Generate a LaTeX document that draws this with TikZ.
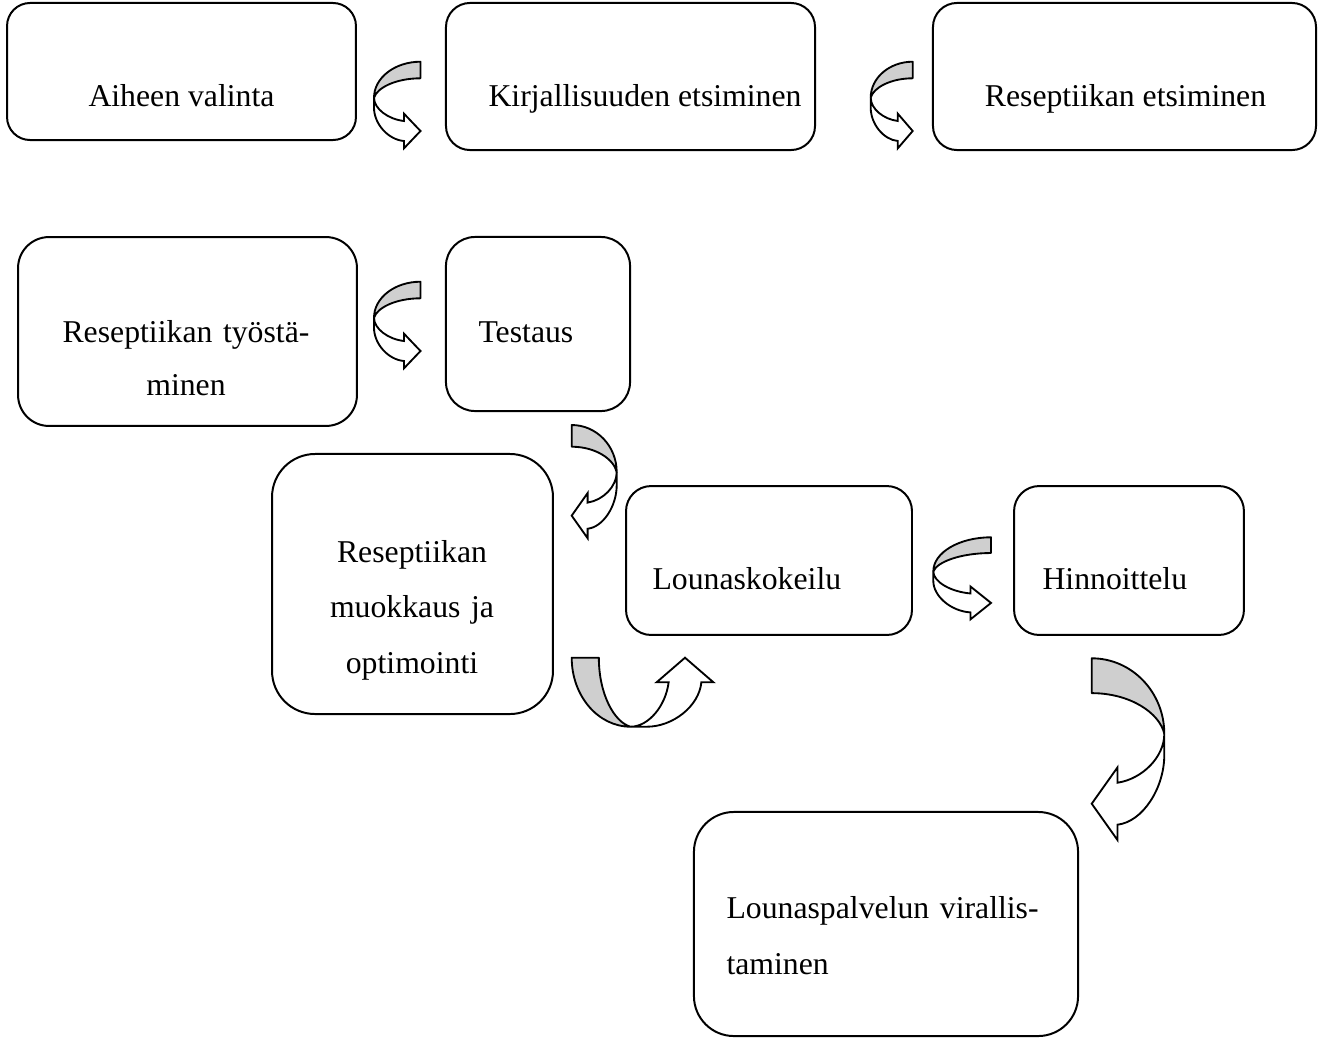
\documentclass[tikz,border=0pt]{standalone}
\usepackage{fontspec}
\setmainfont{Liberation Serif}
\definecolor{bandgray}{gray}{0.81}
\tikzset{
  stepbox/.style={draw=black, line width=0.75pt, rounded corners=#1, inner sep=0pt, outer sep=0pt},
  steptext/.style={font=\fontsize{12pt}{#1}\selectfont, inner sep=0pt},
  steptext/.default=20.8pt,
  bendarrow/.pic={
    \filldraw[fill=bandgray, line width=0.7pt, line join=round]
      (46.5,0) .. controls (20.8,0) and (0,16.1) .. (0,36)
      .. controls (3,26) and (22,16.6) .. (46.5,16.6) -- cycle;
    \filldraw[fill=white, line width=0.7pt]
      (0,36) .. controls (0,47) and (14,57.5) .. (30,59.3)
      -- (30,52) -- (46.5,69.3) -- (30,86.6) -- (30,79.3)
      .. controls (14,78) and (0,62) .. (0,46) -- cycle;
  }
}
\begin{document}
\begin{tikzpicture}[x=0.378pt, y=-0.378pt]
  \useasboundingbox (0,0) rectangle (1327,1037);

  % steps
  \node[stepbox=8.7pt, minimum width=131.9pt, minimum height=51.8pt] (aihe) at (181.5,71.5) {};
  \node[stepbox=9.1pt, minimum width=139.5pt, minimum height=55.6pt] (kirjallisuus) at (630.5,76.5) {};
  \node[stepbox=9.1pt, minimum width=144.8pt, minimum height=55.6pt] (etsinta) at (1124.5,76.5) {};
  \node[stepbox=11.7pt, minimum width=128.1pt, minimum height=71.4pt] (tyostaminen) at (187.5,331.5) {};
  \node[stepbox=11pt, minimum width=69.6pt, minimum height=65.8pt] (testaus) at (538,324) {};
  \node[stepbox=16.3pt, minimum width=106.2pt, minimum height=98.3pt] (muokkaus) at (412.5,584) {};
  \node[stepbox=9.5pt, minimum width=108.1pt, minimum height=56.3pt] (kokeilu) at (769,560.5) {};
  \node[stepbox=9.5pt, minimum width=86.9pt, minimum height=56.3pt] (hinnoittelu) at (1129,560.5) {};
  \node[stepbox=15.1pt, minimum width=145.2pt, minimum height=84.7pt] (virallistaminen) at (886,924) {};

  % texts
  \node[steptext, anchor=base] (aihe-t) at (181.5,106) {Aiheen valinta};
  \node[steptext, anchor=base west] (kirjallisuus-t) at (488,106) {Kirjallisuuden etsiminen};
  \node[steptext, anchor=base] (etsinta-t) at (1125.5,106) {Reseptiikan etsiminen};
  \node[steptext=20.4pt, anchor=base, text width=113.4pt, align=center] (tyostaminen-t) at (186,342) {Reseptiikan työstä-\\minen};
  \node[steptext, anchor=base west] (testaus-t) at (478,342) {Testaus};
  \node[steptext=21pt, anchor=base, text width=98.3pt, align=center] (muokkaus-t) at (412,562) {Reseptiikan\\muokkaus ja\\optimointi};
  \node[steptext, anchor=base west] (kokeilu-t) at (652,589) {Lounaskokeilu};
  \node[steptext, anchor=base west] (hinnoittelu-t) at (1042,589) {Hinnoittelu};
  \node[steptext=21.5pt, anchor=base west, text width=128.5pt, align=left] (virallistaminen-t) at (726,918) {\makebox[120.6pt][s]{Lounaspalvelun virallis-}\\taminen};

  % curved arrows
  \pic at (374,61.7) {bendarrow};
  \pic[xscale=0.903] at (870.7,61.7) {bendarrow};
  \pic at (374,281.7) {bendarrow};
  \pic[xscale=-0.968, yscale=1.308] at (616.7,425) {bendarrow};
  \pic[rotate=90, xscale=1.484, yscale=1.635] at (571.7,726.7) {bendarrow};
  \pic[xscale=1.241, yscale=0.947] at (933.3,537.3) {bendarrow};
  \pic[xscale=-1.561, yscale=2.098] at (1164.3,658.3) {bendarrow};
\end{tikzpicture}
\end{document}
